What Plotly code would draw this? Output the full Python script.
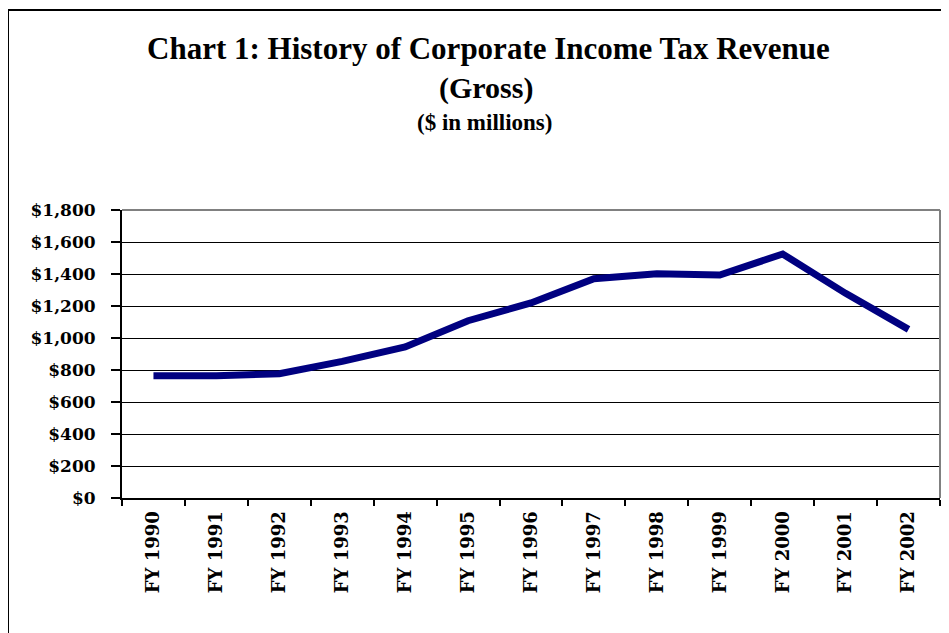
import plotly.graph_objects as go

categories = ["FY 1990", "FY 1991", "FY 1992", "FY 1993", "FY 1994", "FY 1995", "FY 1996",
              "FY 1997", "FY 1998", "FY 1999", "FY 2000", "FY 2001", "FY 2002"]
revenue = [764, 764, 777, 854, 944, 1108, 1219, 1371, 1402, 1394, 1525, 1279, 1054]
y_ticks = [0, 200, 400, 600, 800, 1000, 1200, 1400, 1600, 1800]
y_tick_labels = ["$0", "$200", "$400", "$600", "$800", "$1,000", "$1,200", "$1,400", "$1,600", "$1,800"]

W, H = 949, 633
OFF = 8  # page body margin
PL, PT, PW, PH = 122, 210, 818, 288  # plot area in page pixels
L, T = PL - OFF, PT - OFF
R, B = W - L - PW, H - T - PH

def px_x(x):
    return (x - PL) / PW

def px_y(y):
    return (PT + PH - y) / PH

yfont = dict(family="DejaVu Serif", size=17, color="black", weight="bold")
xfont = dict(family="DejaVu Serif", size=18, color="black", weight="bold")

fig = go.Figure()
fig.add_trace(go.Scatter(
    x=categories, y=revenue, mode="lines",
    line=dict(color="#000080", width=7),
    hoverinfo="x+y", showlegend=False,
))

fig.update_layout(
    width=W, height=H,
    margin=dict(l=L, r=R, t=T, b=B, pad=0),
    paper_bgcolor="white", plot_bgcolor="white",
    xaxis=dict(
        type="category", range=[-0.5, 12.5], tickson="boundaries",
        ticks="outside", ticklen=6, tickwidth=2, tickcolor="black",
        showline=True, linecolor="black", linewidth=2,
        showgrid=False, tickangle=-90, tickfont=xfont,
        ticklabelstandoff=4, fixedrange=True,
    ),
    yaxis=dict(
        range=[0, 1800], tickvals=y_ticks, ticktext=y_tick_labels,
        ticks="outside", ticklen=9, tickwidth=2, tickcolor="black",
        showline=True, linecolor="black", linewidth=2,
        showgrid=True, gridcolor="black", gridwidth=1,
        tickfont=yfont, zeroline=False, ticklabelstandoff=12, fixedrange=True,
    ),
    font=dict(family="Liberation Serif", color="black"),
    shapes=[
        dict(type="line", xref="paper", yref="paper", x0=0, x1=1, y0=1, y1=1,
             line=dict(color="#808080", width=2), layer="above"),
        dict(type="line", xref="paper", yref="paper", x0=1, x1=1, y0=0, y1=1,
             line=dict(color="#808080", width=2), layer="above"),
        dict(type="line", xref="paper", yref="paper", x0=px_x(8), x1=px_x(970), y0=px_y(10), y1=px_y(10),
             line=dict(color="black", width=2)),
        dict(type="line", xref="paper", yref="paper", x0=px_x(8), x1=px_x(8), y0=px_y(10), y1=px_y(660),
             line=dict(color="black", width=2)),
    ],
    annotations=[
        dict(text="<b>Chart 1: History of Corporate Income Tax Revenue</b>", xref="paper", yref="paper",
             x=px_x(488), y=px_y(48), xanchor="center", yanchor="middle", showarrow=False,
             font=dict(family="Liberation Serif", size=31, color="black")),
        dict(text="<b>(Gross)</b>", xref="paper", yref="paper",
             x=px_x(486), y=px_y(88), xanchor="center", yanchor="middle", showarrow=False,
             font=dict(family="Liberation Serif", size=30, color="black")),
        dict(text="<b>($ in millions)</b>", xref="paper", yref="paper",
             x=px_x(484), y=px_y(122), xanchor="center", yanchor="middle", showarrow=False,
             font=dict(family="Liberation Serif", size=23, color="black")),
    ],
)

fig.write_html("out.html")
